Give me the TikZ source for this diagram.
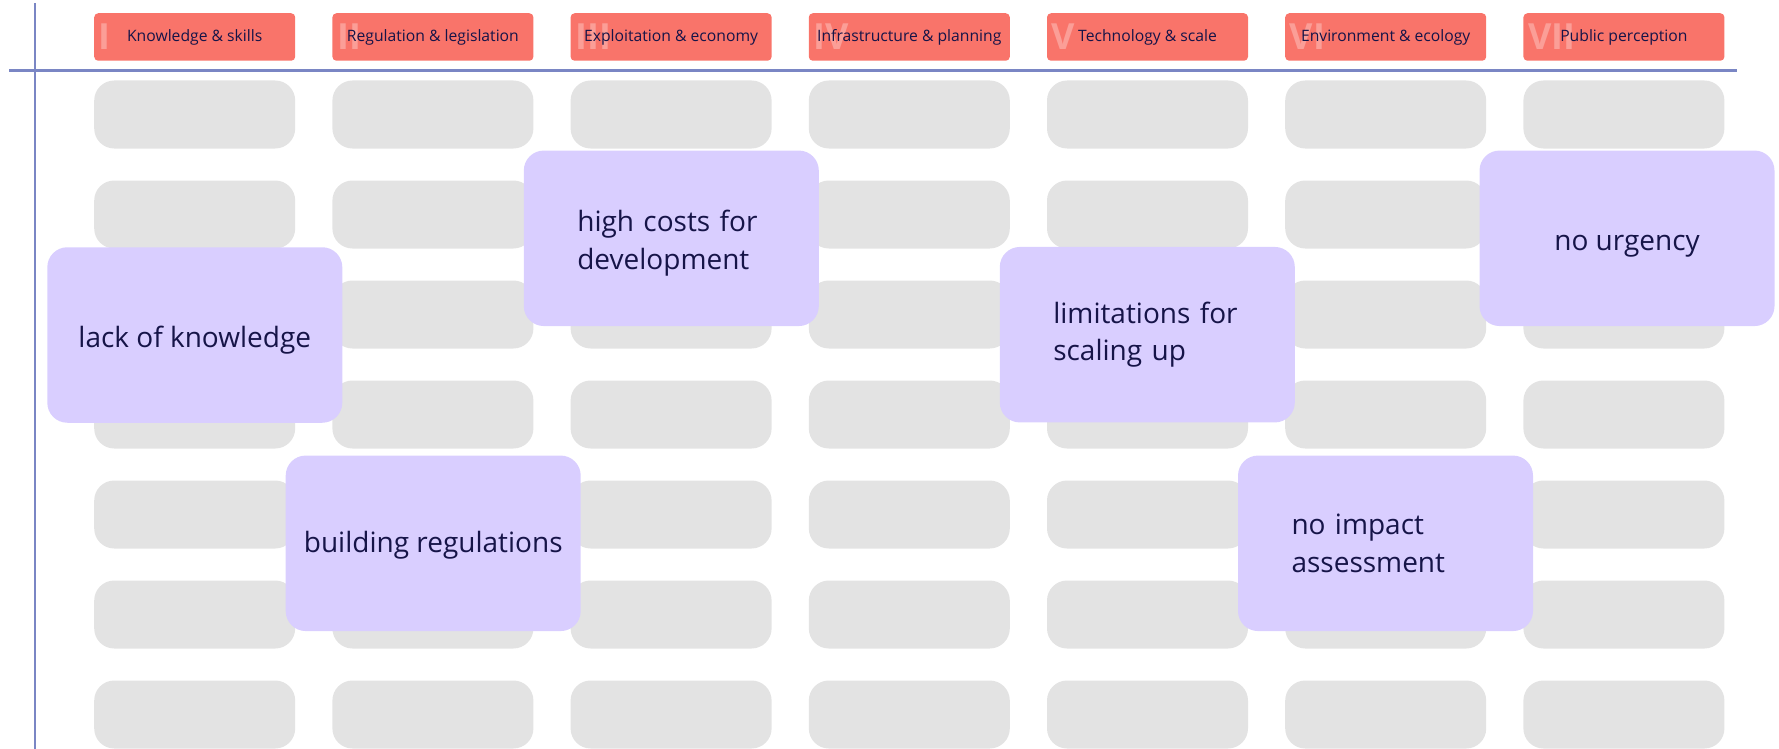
\documentclass[tikz,border=0pt]{standalone}
\usepackage{fontspec}
\setmainfont{Open Sans}
\usepackage{tikz}

\definecolor{headred}{RGB}{249,116,106}
\definecolor{slotgrey}{RGB}{227,227,227}
\definecolor{cardlilac}{RGB}{217,206,255}
\definecolor{inkblue}{RGB}{22,20,72}
\definecolor{axisblue}{RGB}{122,134,196}

\begin{document}
\begin{tikzpicture}[x=1pt,y=-1pt,
	slot/.style={fill=slotgrey,rounded corners=20pt,minimum width=201pt,minimum height=68pt,inner sep=0pt},
	head/.style={fill=headred,rounded corners=4pt,minimum width=201pt,minimum height=47.5pt,inner sep=0pt,
		text=inkblue,font=\fontsize{15.7}{18}\selectfont,
		path picture={\node (num-#1) [anchor=west,fill=none,rounded corners=0pt,minimum width=0pt,minimum height=0pt,inner sep=0pt,
			text=headred!70!white,font=\fontsize{36}{36}\selectfont\bfseries] at ([xshift=4.5pt]path picture bounding box.west) {#1};}},
	card/.style={fill=cardlilac,rounded corners=20pt,minimum width=295pt,minimum height=175.5pt,
		text=inkblue,font=\fontsize{28}{37.7}\selectfont,align=center,text height=31pt,text depth=7pt},
	wrap/.style={text width=188pt,align=left,text depth=44.4pt},
	axis/.style={draw=axisblue,line width=2.2pt}]
	\useasboundingbox (0,0) rectangle (1779,749);
	\coordinate (vtop) at (34.6,3.5);
	\coordinate (vbot) at (34.6,749);
	\coordinate (hleft) at (9,70.5);
	\coordinate (hright) at (1737,70.5);
	\draw[axis] (vtop) -- (vbot);
	\draw[axis] (hleft) -- (hright);
	\foreach \c in {1,...,7}
		\foreach \r in {1,...,7}
			\node (s\c-\r) [slot] at ({194.7+238.2*(\c-1)},{114.5+100*(\r-1)}) {};
	\node (h1) [head=I] at (194.7,37) {Knowledge \& skills};
	\node (h2) [head=II] at (432.9,37) {Regulation \& legislation};
	\node (h3) [head=III] at (671.1,37) {Exploitation \& economy};
	\node (h4) [head=IV] at (909.3,37) {Infrastructure \& planning};
	\node (h5) [head=V] at (1147.5,37) {Technology \& scale};
	\node (h6) [head=VI] at (1385.7,37) {Environment \& ecology};
	\node (h7) [head=VII] at (1623.9,37) {Public perception};
	\node (lack) [card] at (194.8,335) {lack of knowledge};
	\node (build) [card,text depth=13.5pt] at (433.2,543.3) {building regulations};
	\node (costs) [card,wrap] at (671.3,238.3) {high costs for\\development};
	\node (scaling) [card,wrap,text depth=54pt] at (1147.3,334.7) {limitations for\\scaling up};
	\node (impact) [card,wrap,text depth=48pt] at (1385.5,543.3) {no impact\\assessment};
	\node (urgency) [card] at (1627,238.3) {no urgency};
\end{tikzpicture}
\end{document}
